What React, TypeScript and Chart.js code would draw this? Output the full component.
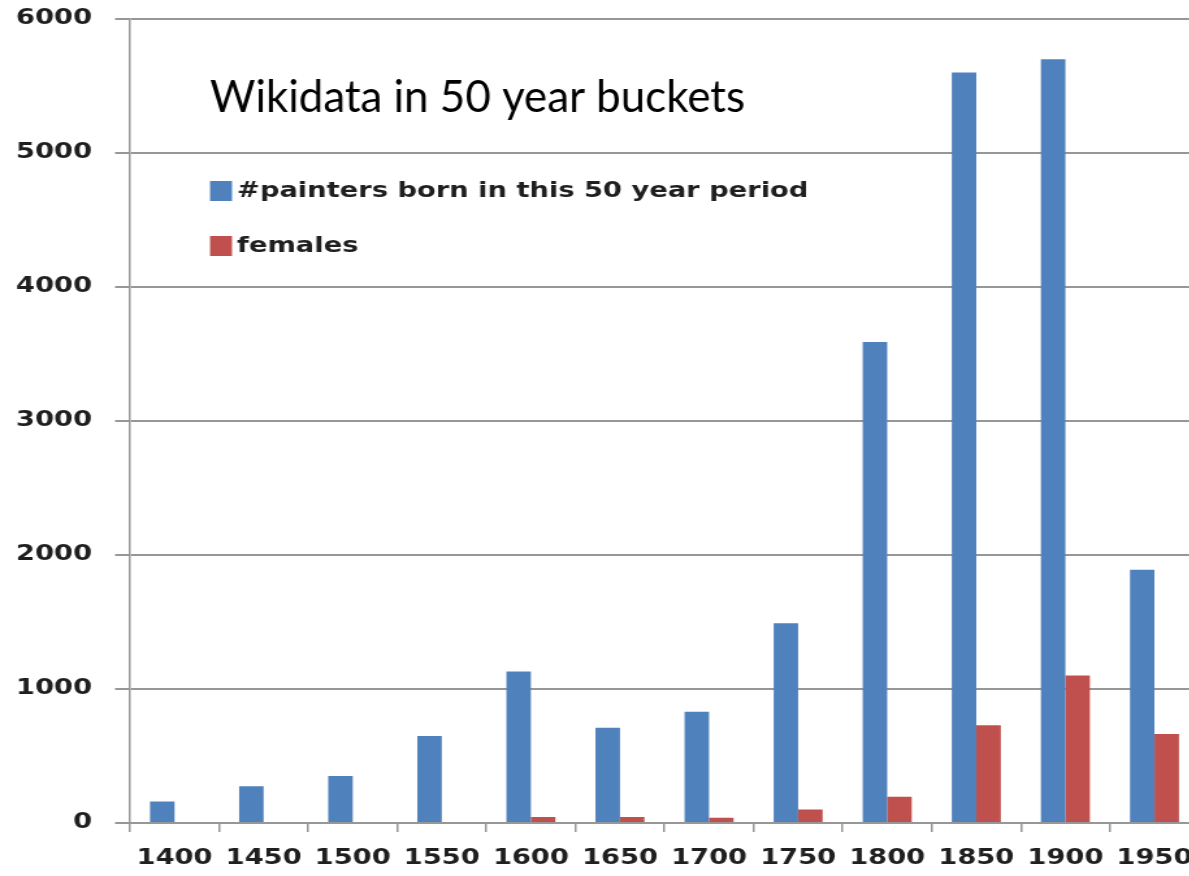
import React, { useEffect, useRef } from "react";
import { Chart, registerables } from "chart.js";

Chart.register(...registerables);

const categories = ["1400", "1450", "1500", "1550", "1600", "1650", "1700", "1750", "1800", "1850", "1900", "1950"];
const painters = [160, 275, 350, 650, 1130, 710, 830, 1490, 3590, 5600, 5700, 1890];
const females = [0, 0, 0, 0, 45, 45, 40, 100, 195, 730, 1100, 665];
const yTicks = [0, 1000, 2000, 3000, 4000, 5000, 6000];
const seriesLabels = ["#painters born in this 50 year period", "females"];
const titleText = "Wikidata in 50 year buckets";

const SX = 1.3; // horizontal stretch of the picture
const CANVAS_W = 940;
const CANVAS_H = 876;
const BLUE = "#4F81BD";
const RED = "#C0504D";
const GRID = "#979797";
const TEXT = "#1f1f1f";
const AXIS_FONT = { family: "'DejaVu Sans', Verdana, sans-serif", weight: "bold" as const, size: 21 };

const overlayPlugin = {
  id: "overlay",
  afterDraw(chart: any) {
    const ctx = chart.ctx as CanvasRenderingContext2D;
    ctx.save();
    ctx.scale(1 / SX, 1);
    ctx.font = "44px Lato, 'Open Sans', sans-serif";
    ctx.fillStyle = "#000";
    ctx.textBaseline = "alphabetic";
    ctx.textAlign = "left";
    ctx.fillText(titleText, 210, 112, 535);
    ctx.restore();

    ctx.save();
    chart.data.datasets.forEach((ds: any, i: number) => {
      const y = 191 + i * 55;
      ctx.fillStyle = ds.backgroundColor;
      ctx.fillRect(210 / SX, y - 10, 22 / SX, 20);
      ctx.font = "bold 21px 'DejaVu Sans', Verdana, sans-serif";
      ctx.fillStyle = TEXT;
      ctx.textBaseline = "middle";
      ctx.textAlign = "left";
      ctx.fillText(ds.label, 237 / SX, y + 1);
    });
    ctx.restore();
  },
};

export default function App() {
  const ref = useRef<HTMLCanvasElement | null>(null);

  useEffect(() => {
    if (!ref.current) return;
    const chart = new Chart(ref.current, {
      type: "bar",
      data: {
        labels: categories,
        datasets: [
          { label: seriesLabels[0], data: painters, backgroundColor: BLUE, borderWidth: 0 },
          { label: seriesLabels[1], data: females, backgroundColor: RED, borderWidth: 0 },
        ],
      },
      options: {
        responsive: false,
        animation: false,
        devicePixelRatio: 1,
        layout: { padding: { top: 19, left: 0, bottom: 0, right: CANVAS_W - 1199 / SX } },
        plugins: {
          legend: { display: false },
          title: { display: false },
          tooltip: { enabled: false },
        },
        datasets: { bar: { categoryPercentage: 0.55, barPercentage: 1 } },
        scales: {
          x: {
            grid: {
              offset: true,
              drawOnChartArea: false,
              drawTicks: true,
              tickLength: 9,
              color: GRID,
              lineWidth: 1.5,
            },
            border: { display: true, color: GRID, width: 2 },
            ticks: { font: AXIS_FONT, color: TEXT, padding: 14, maxRotation: 0, autoSkip: false },
            afterFit: (scale: any) => {
              scale.height = 53;
              scale.paddingLeft = 0;
              scale.paddingRight = 0;
            },
          },
          y: {
            min: 0,
            max: 6000,
            grid: { color: GRID, lineWidth: 2, drawTicks: true, tickLength: 11.5 },
            border: { display: true, color: GRID, width: 1.5 },
            ticks: {
              font: AXIS_FONT,
              color: TEXT,
              padding: 17.7,
              callback: (v: any) => String(v),
            },
            afterBuildTicks: (scale: any) => {
              scale.ticks = yTicks.map((v) => ({ value: v }));
            },
            afterFit: (scale: any) => {
              scale.width = 100;
              scale.paddingTop = 0;
              scale.paddingBottom = 0;
            },
          },
        },
      },
      plugins: [overlayPlugin],
    } as any);
    return () => chart.destroy();
  }, []);

  return (
    <div
      style={{
        position: "fixed",
        left: 0,
        top: 0,
        width: 1189,
        height: 876,
        overflow: "hidden",
        background: "#fff",
      }}
    >
      <canvas
        ref={ref}
        width={CANVAS_W}
        height={CANVAS_H}
        style={{ width: `${CANVAS_W * SX}px`, height: `${CANVAS_H}px`, display: "block" }}
      />
    </div>
  );
}
